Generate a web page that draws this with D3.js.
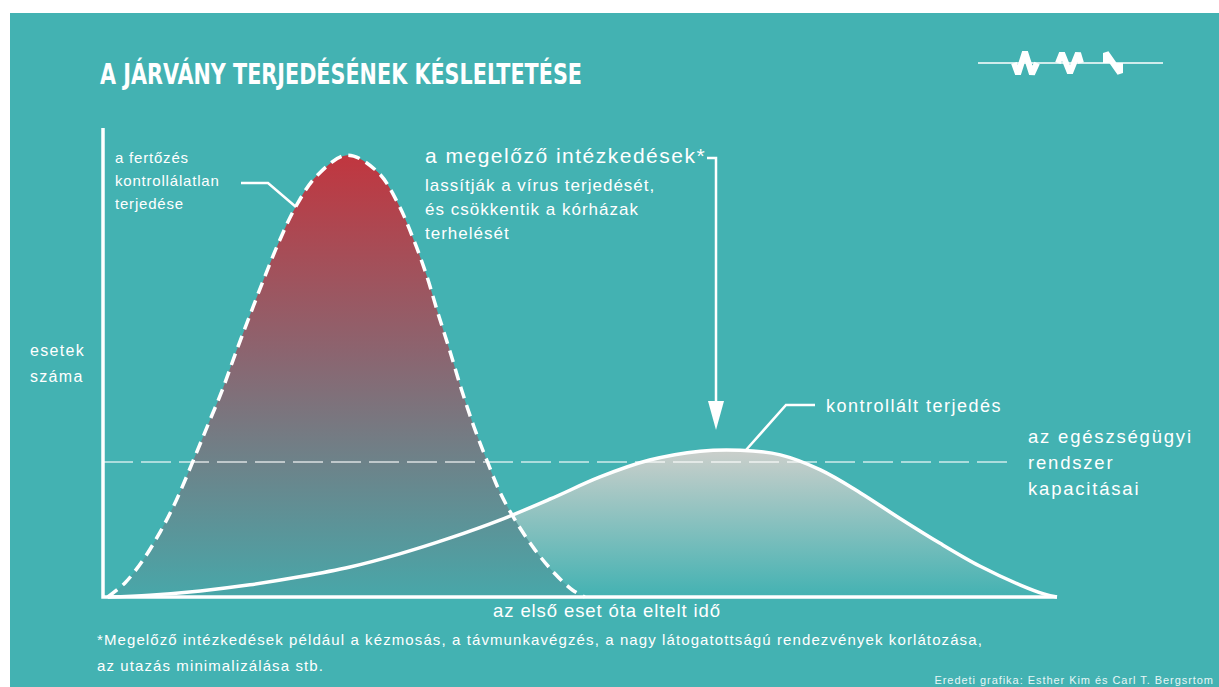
<!DOCTYPE html>
<html>
<head>
<meta charset="utf-8">
<script src="https://cdnjs.cloudflare.com/ajax/libs/d3/7.8.5/d3.min.js"></script>
<style>
  body { margin: 0; background: #fff; }
  svg { display: block; }
  text { font-family: "Liberation Sans", Arial, sans-serif; fill: #fff; }
</style>
</head>
<body>
<div id="plot"></div>
<script>
// Curve data (time since first case, number of cases)
const uncontrolledTime  = [0.5, 2.3, 4.2, 6.0, 7.7, 9.4, 11.0, 12.5, 13.9, 15.4, 16.9, 18.4, 20.2, 22.4, 25.6, 28.8, 30.9, 32.5, 33.9, 35.1, 36.4, 37.6, 38.9, 40.3, 41.6, 43.2, 45.3, 47.4, 49.2, 50.5];
const uncontrolledCases = [0, 3.0, 7.9, 13.9, 20.7, 28.8, 36.7, 44.1, 52.0, 60.1, 68.0, 75.5, 83.2, 89.8, 94.2, 90.6, 84.0, 76.5, 68.7, 60.6, 52.2, 44.1, 36.2, 28.8, 22.4, 16.4, 10.0, 4.9, 1.5, 0];

const controlledTime  = [0.5, 4.9, 10.2, 15.4, 20.6, 25.9, 31.1, 36.4, 41.6, 46.9, 52.1, 57.3, 62.6, 66.8, 71.0, 75.2, 79.4, 83.5, 87.7, 91.9, 96.1, 98.7, 100];
const controlledCases = [0, 0.4, 1.3, 2.6, 4.3, 6.4, 9.2, 12.6, 16.4, 20.9, 25.6, 29.2, 31.1, 31.3, 30.3, 27.1, 22.2, 16.8, 11.5, 6.6, 2.6, 0.6, 0];

const capacity = 28.8;

// Texts
const title = "A JÁRVÁNY TERJEDÉSÉNEK KÉSLELTETÉSE";
const yLabel = ["esetek", "száma"];
const xLabel = "az első eset óta eltelt idő";
const uncontrolledLabel = ["a fertőzés", "kontrollálatlan", "terjedése"];
const measuresHead = "a megelőző intézkedések*";
const measuresLines = ["lassítják a vírus terjedését,", "és csökkentik a kórházak", "terhelését"];
const controlledLabel = "kontrollált terjedés";
const capacityLabel = ["az egészségügyi", "rendszer", "kapacitásai"];
const footnote = ["*Megelőző intézkedések például a kézmosás, a távmunkavégzés, a nagy látogatottságú rendezvények korlátozása,",
                  "az utazás minimalizálása stb."];
const credit = "Eredeti grafika: Esther Kim és Carl T. Bergsrtom";

const W = 1219, H = 687;
const teal = "#43b2b2";

const svg = d3.select("#plot").append("svg")
    .attr("width", W)
    .attr("height", H);

// background panel
svg.append("rect")
    .attr("x", 10).attr("y", 13)
    .attr("width", W - 10).attr("height", H - 13)
    .attr("fill", teal);

const x = d3.scaleLinear().domain([0, 100]).range([103, 1057]);
const y = d3.scaleLinear().domain([0, 100]).range([597, 128]);

const unc = uncontrolledTime.map((t, i) => [t, uncontrolledCases[i]]);
const con = controlledTime.map((t, i) => [t, controlledCases[i]]);

// gradients
const defs = svg.append("defs");
const redGrad = defs.append("linearGradient")
    .attr("id", "redGrad").attr("gradientUnits", "userSpaceOnUse")
    .attr("x1", 0).attr("x2", 0)
    .attr("y1", y(d3.max(uncontrolledCases))).attr("y2", y(0));
redGrad.append("stop").attr("offset", "0%").attr("stop-color", "#c1363f");
redGrad.append("stop").attr("offset", "45%").attr("stop-color", "#8b6570");
redGrad.append("stop").attr("offset", "100%").attr("stop-color", "#48a7a9");

const greyGrad = defs.append("linearGradient")
    .attr("id", "greyGrad").attr("gradientUnits", "userSpaceOnUse")
    .attr("x1", 0).attr("x2", 0)
    .attr("y1", y(d3.max(controlledCases))).attr("y2", y(0));
greyGrad.append("stop").attr("offset", "0%").attr("stop-color", "#cbcfcb");
greyGrad.append("stop").attr("offset", "100%").attr("stop-color", teal);

const area = d3.area()
    .x(d => x(d[0])).y0(y(0)).y1(d => y(d[1]))
    .curve(d3.curveCatmullRom);
const line = d3.line()
    .x(d => x(d[0])).y(d => y(d[1]))
    .curve(d3.curveCatmullRom);

// fills
svg.append("path").datum(con).attr("d", area).attr("fill", "url(#greyGrad)");
svg.append("path").datum(unc).attr("d", area).attr("fill", "url(#redGrad)");

// capacity line
svg.append("line")
    .attr("x1", x(0)).attr("x2", 1012)
    .attr("y1", y(capacity)).attr("y2", y(capacity))
    .attr("stroke", "#fff").attr("stroke-opacity", 0.75)
    .attr("stroke-width", 1.6)
    .attr("stroke-dasharray", "30,8");

// curves
svg.append("path").datum(con).attr("d", line)
    .attr("fill", "none").attr("stroke", "#fff").attr("stroke-width", 3.5);
svg.append("path").datum(unc).attr("d", line)
    .attr("fill", "none").attr("stroke", "#fff").attr("stroke-width", 3.5)
    .attr("stroke-dasharray", "12,7");

// axes
svg.append("path")
    .attr("d", `M${x(0)},${y(100)}V${y(0)}H${x(100)}`)
    .attr("fill", "none").attr("stroke", "#fff").attr("stroke-width", 3.5);

// title
svg.append("text")
    .attr("x", 100).attr("y", 84)
    .attr("textLength", 482).attr("lengthAdjust", "spacingAndGlyphs")
    .style("font-family", "'DejaVu Sans Condensed', 'DejaVu Sans', sans-serif")
    .style("font-weight", "bold")
    .style("font-size", "29px")
    .text(title);

// logo
const logo = svg.append("g").attr("stroke", "#fff").attr("fill", "none");
logo.append("line").attr("x1", 978).attr("x2", 1163).attr("y1", 63).attr("y2", 63)
    .attr("stroke-width", 1.5);
logo.selectAll("path.mark")
    .data(["M1014,63 L1018,74 L1025,52 L1032,74 L1037,63",
           "M1058,63 L1062,53 L1070,73 L1078,53 L1081,63",
           "M1106,63 V53 L1120,73 V63"])
  .enter().append("path")
    .attr("d", d => d)
    .attr("stroke-width", 6).attr("stroke-linejoin", "bevel");

// helper for multi-line labels
function label(lines, px, py, dy, size, ls, anchor) {
  const t = svg.append("text")
      .attr("x", px).attr("y", py)
      .style("font-size", size + "px")
      .style("letter-spacing", ls + "px")
      .attr("text-anchor", anchor || "start");
  lines.forEach((l, i) => t.append("tspan").attr("x", px).attr("y", py + i * dy).text(l));
  return t;
}

label(yLabel, 30, 356, 26, 16, 1.3);
label(uncontrolledLabel, 115, 163, 23, 15, 0.8);
label([measuresHead], 425, 163, 0, 21, 1.5);
label(measuresLines, 425, 191, 24, 17, 1.0);
label([controlledLabel], 826, 412, 0, 18, 1.5);
label(capacityLabel, 1028, 443, 26, 18.5, 1.8);
label([xLabel], 607, 617, 0, 18.5, 0.9, "middle");
label(footnote, 97, 645, 26, 15, 1.1);
svg.append("text")
    .attr("x", 1214).attr("y", 684)
    .attr("text-anchor", "end")
    .style("font-size", "11px")
    .style("letter-spacing", "0.95px")
    .style("fill", "#e8f6f6")
    .text(credit);

// leader lines
const leader = svg.append("g").attr("stroke", "#fff").attr("fill", "none")
    .attr("stroke-width", 2.5);
leader.append("path").attr("d", "M241,183 H268 L296,207");
leader.append("path").attr("d", "M707,158 H716 V405");
leader.append("path").attr("d", "M815,405 H786 L746,450");
svg.append("path")
    .attr("d", "M708,401 L724,401 L716,430 Z")
    .attr("fill", "#fff");
</script>
</body>
</html>
